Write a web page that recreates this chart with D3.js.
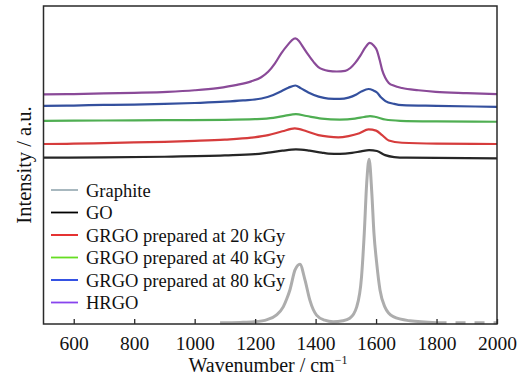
<!DOCTYPE html>
<html>
<head>
<meta charset="utf-8">
<script src="https://cdn.jsdelivr.net/npm/d3@7"></script>
<style>
  html, body { margin: 0; padding: 0; background: #fff; }
  svg { display: block; }
  svg text { font-family: "Liberation Serif", "Times New Roman", Times, serif; }
</style>
</head>
<body>
<svg id="chart" width="526" height="379"></svg>
<script>
// Raman spectra, [wavenumber (cm^-1), intensity (a.u., offset stacked)]
const graphite = [
  [1084, 0.4], [1150, 0.5], [1197, 0.7], [1240, 1.4], [1270, 2.8], [1293, 5.4],
  [1305, 8.0], [1315, 10.7], [1332, 17.0], [1348, 18.8], [1365, 13.8], [1381, 7.5],
  [1403, 2.8], [1430, 1.2], [1458, 0.7], [1490, 1.0], [1513, 1.8], [1536, 5.4],
  [1552, 14.9], [1561, 28.6], [1569, 44.3], [1577, 51.8], [1586, 41.1], [1593, 28.6],
  [1602, 19.2], [1613, 10.7], [1629, 5.4], [1657, 2.3], [1712, 1.0], [1800, 0.4]
];
const graphiteTail = [[1800, 0.4], [1900, 0.4], [2000, 0.4]];
const go = [
  [500, 52.3], [700, 52.4], [900, 52.6], [1100, 53.0], [1200, 53.4], [1243, 53.9],
  [1290, 54.5], [1335, 54.9], [1380, 54.5], [1420, 53.9], [1442, 53.6], [1480, 53.5],
  [1520, 53.8], [1550, 54.3], [1577, 54.7], [1603, 54.4], [1630, 53.1], [1660, 52.5],
  [1700, 52.3], [2000, 52.1]
];
const grgo20 = [
  [500, 56.6], [600, 56.7], [700, 56.9], [800, 57.1], [900, 57.3], [1000, 57.6],
  [1100, 58.0], [1187, 58.6], [1243, 59.4], [1290, 60.6], [1331, 61.5], [1370, 60.6],
  [1409, 59.4], [1442, 58.9], [1475, 58.7], [1509, 59.1], [1545, 60.0], [1575, 61.2],
  [1600, 60.8], [1620, 59.4], [1642, 57.7], [1686, 57.0], [1800, 56.7], [2000, 56.6]
];
const grgo40 = [
  [500, 63.9], [700, 64.0], [900, 64.1], [1100, 64.2], [1200, 64.4], [1260, 64.8],
  [1300, 65.5], [1335, 66.0], [1370, 65.4], [1420, 64.6], [1480, 64.3], [1530, 64.6],
  [1560, 65.1], [1580, 65.4], [1600, 65.1], [1630, 64.3], [1680, 63.9], [1800, 63.7],
  [2000, 63.6]
];
const grgo80 = [
  [500, 68.6], [600, 68.7], [700, 68.9], [800, 69.0], [900, 69.2], [1000, 69.5],
  [1100, 69.9], [1160, 70.3], [1221, 70.9], [1260, 72.0], [1287, 73.2], [1310, 74.3],
  [1333, 75.0], [1352, 74.1], [1376, 72.8], [1410, 71.5], [1442, 70.9], [1480, 70.8],
  [1509, 71.2], [1535, 72.2], [1553, 73.2], [1575, 73.9], [1590, 73.5], [1603, 72.8],
  [1617, 71.2], [1631, 70.1], [1660, 69.2], [1686, 68.8], [1800, 68.6], [2000, 68.3]
];
const hrgo = [
  [500, 72.2], [600, 72.3], [700, 72.5], [800, 72.7], [910, 73.0], [1000, 73.5],
  [1076, 74.2], [1140, 75.2], [1187, 76.3], [1220, 77.6], [1243, 79.3], [1265, 81.9],
  [1287, 85.2], [1310, 88.0], [1322, 89.3], [1333, 89.8], [1345, 89.0], [1357, 87.3],
  [1376, 84.6], [1395, 82.2], [1409, 80.8], [1425, 80.0], [1442, 79.6], [1470, 79.4],
  [1498, 79.6], [1515, 80.5], [1531, 82.1], [1548, 84.4], [1564, 86.9], [1579, 88.4],
  [1592, 87.6], [1603, 86.0], [1612, 83.0], [1620, 79.9], [1630, 77.5], [1642, 75.8],
  [1660, 74.9], [1686, 74.2], [1740, 73.5], [1797, 73.0], [1900, 72.6], [2000, 72.3]
];

const seriesNames = ["Graphite", "GO", "GRGO prepared at 20 kGy", "GRGO prepared at 40 kGy", "GRGO prepared at 80 kGy", "HRGO"];
const xTicks = [600, 800, 1000, 1200, 1400, 1600, 1800, 2000];
const xLabel = "Wavenumber / cm";
const yLabel = "Intensity / a.u.";

const SERIF = '"Liberation Serif", "Times New Roman", Times, serif';

const svg = d3.select("#chart");
const m = { left: 43.5, right: 497, top: 6, bottom: 324 };

const x = d3.scaleLinear().domain([500, 2000]).range([m.left, m.right]);
const y = d3.scaleLinear().domain([0, 100]).range([m.bottom, m.top]);

const line = d3.line()
  .x(d => x(d[0]))
  .y(d => y(d[1]))
  .curve(d3.curveMonotoneX);

const plot = svg.append("g");

// spectra; colours in the plot are muted relative to the legend swatches
const traces = [
  { data: graphite, color: "#adadad", width: 3 },
  { data: go, color: "#262626", width: 2.2 },
  { data: grgo20, color: "#d63c3c", width: 2.2 },
  { data: grgo40, color: "#4fae52", width: 2.2 },
  { data: grgo80, color: "#34509e", width: 2.2 },
  { data: hrgo, color: "#8a4a98", width: 2.2 }
];
traces.forEach(t => {
  plot.append("path")
    .attr("d", line(t.data))
    .attr("fill", "none")
    .attr("stroke", t.color)
    .attr("stroke-width", t.width)
    .attr("stroke-linejoin", "round");
});
plot.append("path")
  .attr("d", line(graphiteTail))
  .attr("fill", "none")
  .attr("stroke", "#adadad")
  .attr("stroke-width", 3)
  .attr("stroke-dasharray", "10 9");

// frame
svg.append("rect")
  .attr("x", m.left).attr("y", m.top)
  .attr("width", m.right - m.left).attr("height", m.bottom - m.top)
  .attr("fill", "none").attr("stroke", "#2a2a2a").attr("stroke-width", 1.5);

// bottom axis with inward ticks
const xAxis = d3.axisBottom(x).tickValues(xTicks).tickSize(-5).tickPadding(12).tickFormat(d3.format("d"));
const gx = svg.append("g").attr("transform", `translate(0,${m.bottom})`).call(xAxis)
  .attr("font-family", SERIF).attr("font-size", 19.5);
gx.select(".domain").remove();
gx.selectAll(".tick line").attr("stroke", "#2a2a2a").attr("stroke-width", 1.3);
gx.selectAll(".tick text").style("font-family", SERIF).attr("fill", "#111");

// axis titles
const xt = svg.append("text")
  .attr("x", 268).attr("y", 372)
  .attr("text-anchor", "middle")
  .style("font-family", SERIF)
  .attr("font-size", 20)
  .attr("fill", "#111")
  .text(xLabel);
xt.append("tspan").attr("dy", -8).attr("font-size", 12).text("−1");

svg.append("text")
  .attr("transform", "translate(31,165) rotate(-90)")
  .attr("text-anchor", "middle")
  .style("font-family", SERIF)
  .attr("font-size", 20.5)
  .attr("fill", "#111")
  .text(yLabel);

// legend
const legendColors = ["#9fb0b8", "#000000", "#e21b1b", "#66dd22", "#1f3fe0", "#8844ee"];
const lg = svg.append("g");
seriesNames.forEach((name, i) => {
  const ly = 190 + i * 22.5;
  lg.append("line")
    .attr("x1", 51).attr("x2", 78).attr("y1", ly).attr("y2", ly)
    .attr("stroke", legendColors[i]).attr("stroke-width", 1.8);
  lg.append("text")
    .attr("x", 86).attr("y", ly + 6.5)
    .style("font-family", SERIF)
    .attr("font-size", 18.5)
    .attr("fill", "#111")
    .text(name);
});
</script>
</body>
</html>
